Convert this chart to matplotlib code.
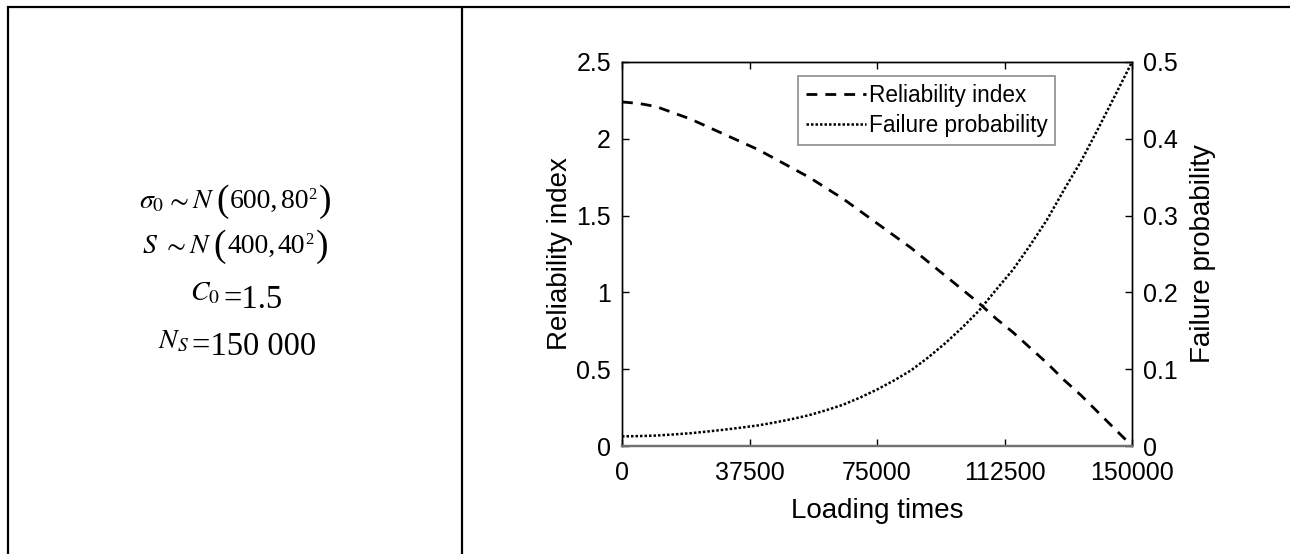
import matplotlib
matplotlib.use("Agg")
import matplotlib.pyplot as plt
from matplotlib.lines import Line2D

plt.rcParams['mathtext.fontset'] = 'stix'
plt.rcParams['font.family'] = ['Liberation Sans', 'DejaVu Sans']

# ---- data ----
loading_times = [0, 5000, 10000, 15000, 20000, 25000, 30000, 35000, 40000, 45000,
                 50000, 55000, 60000, 65000, 70000, 75000, 80000, 85000, 90000,
                 95000, 100000, 105000, 110000, 115000, 120000, 125000, 130000,
                 135000, 140000, 145000, 150000]
reliability_index = [2.24, 2.23, 2.21, 2.17, 2.13, 2.08, 2.03, 1.98, 1.93, 1.87,
                     1.81, 1.75, 1.68, 1.61, 1.53, 1.45, 1.37, 1.29, 1.20,
                     1.11, 1.02, 0.93, 0.83, 0.74, 0.64, 0.54, 0.43,
                     0.33, 0.22, 0.11, 0.00]
failure_probability = [0.0125, 0.0129, 0.0136, 0.0150, 0.0166, 0.0188, 0.0212,
                       0.0239, 0.0268, 0.0307, 0.0351, 0.0401, 0.0465, 0.0537,
                       0.0630, 0.0735, 0.0853, 0.0985, 0.1151, 0.1335, 0.1539,
                       0.1762, 0.2033, 0.2296, 0.2611, 0.2946, 0.3336, 0.3707,
                       0.4129, 0.4562, 0.5000]
x_ticks = [0, 37500, 75000, 112500, 150000]
x_tick_labels = ['0', '37500', '75000', '112500', '150000']
left_ticks = [0, 0.5, 1, 1.5, 2, 2.5]
left_tick_labels = ['0', '0.5', '1', '1.5', '2', '2.5']
right_ticks = [0, 0.1, 0.2, 0.3, 0.4, 0.5]
right_tick_labels = ['0', '0.1', '0.2', '0.3', '0.4', '0.5']

W, H = 1290, 554
fig = plt.figure(figsize=(W / 100, H / 100), dpi=100)
renderer = fig.canvas.get_renderer()

def fx(px):
    return px / W

def fy(py):
    return 1 - py / H

SERIF = ['Liberation Serif', 'DejaVu Serif']

def chain(xc, ybase, parts):
    """Draw text pieces side by side, centred at xc (pixels), baseline ybase (pixels).
    parts: (string, fontsize, dy_pixels, gap_after_pixels)"""
    texts = []
    widths = []
    for s, size, dy, gap in parts:
        t = fig.text(0, 0, s, fontsize=size, ha='left', va='baseline', family=SERIF)
        w = t.get_window_extent(renderer).width
        texts.append((t, dy, gap))
        widths.append(w + gap)
    total = sum(widths)
    x = xc - total / 2
    for (t, dy, gap), w in zip(texts, widths):
        t.set_position((fx(x), fy(ybase + dy)))
        x += w

# ---- table borders ----
border_kw = dict(color='black', lw=1.6, transform=fig.transFigure, solid_capstyle='butt')
fig.add_artist(Line2D([fx(7), 1.0], [fy(7), fy(7)], **border_kw))
fig.add_artist(Line2D([fx(7.5), fx(7.5)], [fy(6.2), 0], **border_kw))
fig.add_artist(Line2D([fx(462), fx(462)], [fy(6.2), 0], **border_kw))

# ---- left cell parameters ----
chain(235, 208, [(r'$\sigma_0$', 20, 0, 1), (r'$\sim$', 20, 0, 3), (r'$N$', 20, 0, 2),
                 ('(', 27, 3, 1), ('600,', 20, 0, 2), ('80', 20, 0, 0),
                 ('2', 12, -9, 2), (')', 27, 3, 0)])
chain(235, 253, [(r'$S$', 20, 0, 4), (r'$\sim$', 20, 0, 3), (r'$N$', 20, 0, 2),
                 ('(', 27, 3, 1), ('400,', 20, 0, 2), ('40', 20, 0, 0),
                 ('2', 12, -9, 2), (')', 27, 3, 0)])
chain(236, 304, [(r'$C_0$', 20, -4, 3), ('=1.5', 23.5, 4, 0)])
chain(237, 351, [(r'$N_S$', 20, -3, 3), ('=150 000', 23.5, 4, 0)])

# ---- chart ----
ax = fig.add_axes([fx(622), fy(446), (1132 - 622) / W, (446 - 62) / H])
ax2 = ax.twinx()

l1, = ax.plot(loading_times, reliability_index, color='black', lw=2.0,
              linestyle=(0, (3.9, 2.9)), label='Reliability index', clip_on=False)
l2, = ax2.plot(loading_times, failure_probability, color='black', lw=1.8,
               linestyle=(0, (1.0, 0.8)), label='Failure probability', clip_on=False)

ax.set_xlim(0, 150000)
ax.set_ylim(0, 2.5)
ax2.set_ylim(0, 0.5)

ax.set_xticks(x_ticks)
ax.set_xticklabels(x_tick_labels)
ax.set_yticks(left_ticks)
ax.set_yticklabels(left_tick_labels)
ax2.set_yticks(right_ticks)
ax2.set_yticklabels(right_tick_labels)

ax.tick_params(axis='x', direction='in', length=5, width=1, labelsize=18, pad=11,
               top=True, bottom=True)
ax.tick_params(axis='y', direction='in', length=5, width=1, labelsize=18, pad=8,
               left=True, right=False)
ax2.tick_params(axis='y', direction='in', length=5, width=1, labelsize=18, pad=8,
                right=True, left=False)

for a in (ax, ax2):
    for s in ('top', 'left', 'right'):
        a.spines[s].set_linewidth(1.0)
        a.spines[s].set_color('black')
    a.spines['bottom'].set_color('#707070')
    a.spines['bottom'].set_linewidth(1.6)

ax.set_xlabel('Loading times', fontsize=20, labelpad=9)
ax.set_ylabel('Reliability index', fontsize=20, labelpad=2)
ax2.set_ylabel('Failure probability', fontsize=20, labelpad=9)

leg = ax2.legend(handles=[l1, l2], loc='upper left',
                 bbox_to_anchor=(fx(798), fy(76)), bbox_transform=fig.transFigure,
                 fontsize=16.3, frameon=True, fancybox=False, handlelength=2.65,
                 handletextpad=0.12, borderpad=0.35, labelspacing=0.32,
                 borderaxespad=0)
leg.get_frame().set_edgecolor('#707070')
leg.get_frame().set_linewidth(1.2)

fig.savefig('out.png', dpi=100)
